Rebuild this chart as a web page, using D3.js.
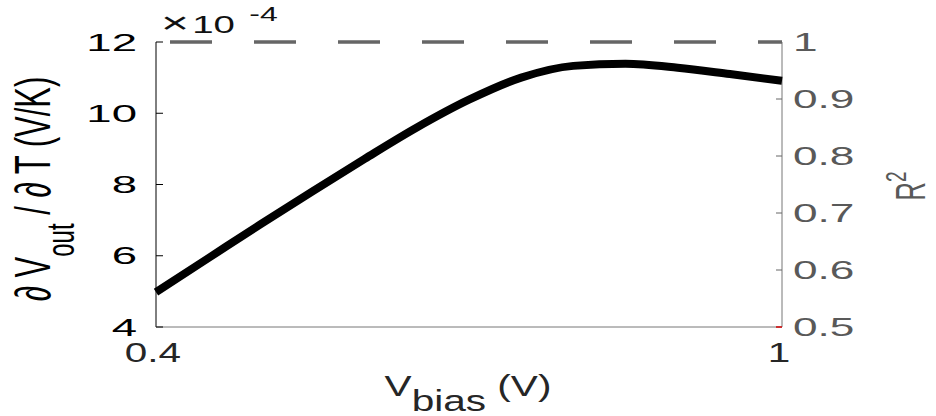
<!DOCTYPE html>
<html>
<head>
<meta charset="utf-8">
<script src="https://cdn.jsdelivr.net/npm/d3@7"></script>
<style>
  body { margin: 0; background: #fff; }
  svg { display: block; font-family: "Liberation Sans", Arial, sans-serif; }
</style>
</head>
<body>
<script>
// bias voltage (V) and sensitivity dVout/dT (x1e-4 V/K)
const vbias = [0.40, 0.45, 0.50, 0.55, 0.60, 0.65, 0.70, 0.75, 0.80, 0.85, 0.90, 0.95, 1.00];
const sens = [4.98, 5.93, 6.88, 7.81, 8.72, 9.60, 10.38, 11.0, 11.33, 11.39, 11.28, 11.10, 10.91];
// R^2 of the fit at each bias
const r2 = [1, 1, 1, 1, 1, 1, 1, 1, 1, 1, 1, 1, 1];

const xTicks = [0.4, 1];
const yLeftTicks = [4, 6, 8, 10, 12];
const yRightTicks = [0.5, 0.6, 0.7, 0.8, 0.9, 1];

const W = 936, H = 416;
const margin = { top: 42, right: 154, bottom: 89, left: 156 };
const width = W - margin.left - margin.right;
const height = H - margin.top - margin.bottom;

const svg = d3.select('body').append('svg')
  .attr('width', W)
  .attr('height', H);

const g = svg.append('g')
  .attr('transform', 'translate(' + margin.left + ',' + margin.top + ')');

const x = d3.scaleLinear().domain([0.4, 1]).range([0, width]);
const yL = d3.scaleLinear().domain([4, 12]).range([height, 0]);
const yR = d3.scaleLinear().domain([0.5, 1]).range([height, 0]);

// put a horizontally stretched text at (px, py), glyphs in the picture are wide
function label(parent, px, py, size, k, rot) {
  return parent.append('text')
    .attr('transform', 'translate(' + px + ',' + py + ') scale(' + k + ',1)' + (rot ? ' rotate(' + rot + ')' : ''))
    .style('font-size', size + 'px');
}

// axis lines
g.append('line').attr('x1', 0).attr('x2', 0).attr('y1', 0).attr('y2', height)
  .attr('stroke', '#000').attr('stroke-width', 1);
g.append('line').attr('x1', 0).attr('x2', width).attr('y1', height).attr('y2', height)
  .attr('stroke', '#777').attr('stroke-width', 1);
g.append('line').attr('x1', width).attr('x2', width).attr('y1', 0).attr('y2', height)
  .attr('stroke', '#777').attr('stroke-width', 1);

// left ticks
yLeftTicks.forEach(t => {
  g.append('line').attr('x1', 0).attr('x2', 7).attr('y1', yL(t)).attr('y2', yL(t))
    .attr('stroke', '#000').attr('stroke-width', 1);
  label(g, -19, yL(t), 24, 1.9)
    .attr('text-anchor', 'end').attr('dy', '0.36em').attr('fill', '#000').text(t);
});

// right ticks
yRightTicks.forEach(t => {
  g.append('line').attr('x1', width).attr('x2', width - 6).attr('y1', yR(t)).attr('y2', yR(t))
    .attr('stroke', '#666').attr('stroke-width', 1);
  label(g, width + 11, yR(t), 26, 1.7)
    .attr('text-anchor', 'start').attr('dy', '0.36em').attr('fill', '#595959').text(t);
});
// small red marks at the right axis ends
[0.5, 1].forEach(t => {
  g.append('line').attr('x1', width - 6).attr('x2', width).attr('y1', yR(t)).attr('y2', yR(t))
    .attr('stroke', '#e01010').attr('stroke-width', 1.5);
});

// x ticks
xTicks.forEach(t => {
  label(g, x(t) - 3, height + 35, 27, 1.5)
    .attr('text-anchor', 'middle').attr('fill', '#262626').text(t);
});

// dashed R^2 line
const r2Line = d3.line()
  .x((d, i) => x(vbias[i]))
  .y(d => yR(d));
g.append('path')
  .datum(r2)
  .attr('d', r2Line)
  .attr('fill', 'none')
  .attr('stroke', '#666')
  .attr('stroke-width', 3.5)
  .attr('stroke-dasharray', '42,42')
  .attr('stroke-dashoffset', 70);

// sensitivity curve
const sensLine = d3.line()
  .x((d, i) => x(vbias[i]))
  .y(d => yL(d))
  .curve(d3.curveMonotoneX);
g.append('path')
  .datum(sens)
  .attr('d', sensLine)
  .attr('fill', 'none')
  .attr('stroke', '#000')
  .attr('stroke-width', 8);

// exponent label
const ex = label(svg, 161, 33, 24, 1.6).attr('fill', '#111');
ex.append('tspan').style('font-size', '30px').text('\u00d7');
ex.append('tspan').attr('dx', 2).text('10');
ex.append('tspan').attr('dx', 9).attr('dy', -12).style('font-size', '20px').text('-4');

// x label
const xl = label(svg, 468, 396, 29, 1.4).attr('text-anchor', 'middle').attr('fill', '#262626');
xl.append('tspan').text('V');
xl.append('tspan').attr('dy', 15).text('bias');
xl.append('tspan').attr('dy', -15).text(' (V)');

// left y label
const yl = label(svg, 50, 189, 31, 1.6, -90).attr('text-anchor', 'middle').attr('fill', '#000');
yl.append('tspan').text('\u2202 V');
yl.append('tspan').attr('dy', 15).style('font-size', '24px').text('out');
yl.append('tspan').attr('dy', -15).text(' / \u2202 T (V/K)');

// right y label
const rl = label(svg, 925, 186, 26, 1.6, -90).attr('text-anchor', 'middle').attr('fill', '#595959');
rl.append('tspan').text('R');
rl.append('tspan').attr('dy', -12).style('font-size', '19px').text('2');
</script>
</body>
</html>
